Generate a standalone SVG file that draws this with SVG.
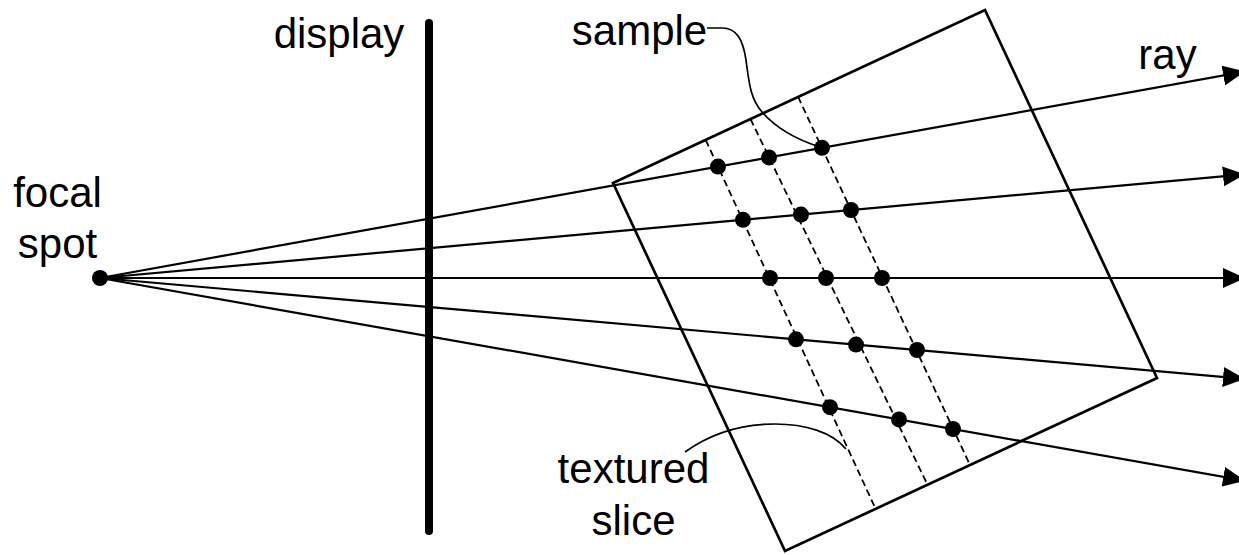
<svg xmlns="http://www.w3.org/2000/svg" width="1239" height="555" viewBox="0 0 1239 555">
<style>
.lbl{font-family:"Liberation Sans",Arial,sans-serif;font-size:42px;fill:#000;text-anchor:middle}
.ray{stroke:#000;stroke-width:2.2;fill:none}
.dash{stroke:#000;stroke-width:1.8;stroke-dasharray:7,4;fill:none}
.lead{stroke:#000;stroke-width:1.7;fill:none}
.dot{fill:#000}
</style>
<defs>
<marker id="arr" markerUnits="userSpaceOnUse" viewBox="0 0 22 20" markerWidth="22" markerHeight="20" refX="22" refY="10" orient="auto">
<path d="M0,0 L22,10 L0,20 z" fill="#000"/>
</marker>
</defs>
<rect width="1239" height="555" fill="#fff"/>
<g id="volume">
<polygon points="613,183 985,10 1157,378 785,551" fill="none" stroke="#000" stroke-width="2.7"/>
</g>
<g id="slices">
<line class="dash" x1="705.7" y1="139.9" x2="875.6" y2="508.9"/>
<line class="dash" x1="750.5" y1="119" x2="927.5" y2="484.7"/>
<line class="dash" x1="798.1" y1="96.9" x2="970" y2="465"/>
</g>
<g id="connectors">
<line class="ray" x1="100" y1="278" x2="1245" y2="71.6" marker-end="url(#arr)"/>
<line class="ray" x1="100" y1="278" x2="1245" y2="174.4" marker-end="url(#arr)"/>
<line class="ray" x1="100" y1="278" x2="1245" y2="278" marker-end="url(#arr)"/>
<line class="ray" x1="100" y1="278" x2="1245" y2="378.9" marker-end="url(#arr)"/>
<line class="ray" x1="100" y1="278" x2="1245" y2="480.7" marker-end="url(#arr)"/>
<path class="lead" d="M707,28 L722,28 C737,28 743,40 746,60 C749,82 750,98 762,112 C776,128 798,140 820,147"/>
<path class="lead" d="M685,452 C710,434 740,424 775,424 C805,424 832,432 846,449"/>
</g>
<g id="display">
<line x1="429" y1="23" x2="429" y2="531" stroke="#000" stroke-width="8" stroke-linecap="round"/>
<text class="lbl" x="339" y="48">display</text>
</g>
<g id="focal-spot">
<circle class="dot" cx="100" cy="278" r="8"/>
<text class="lbl" x="57.5" y="207">focal</text>
<text class="lbl" x="57.5" y="258">spot</text>
</g>
<g id="samples">
<circle class="dot" cx="718" cy="166.6" r="8"/>
<circle class="dot" cx="769" cy="157.4" r="8"/>
<circle class="dot" cx="822" cy="147.8" r="8"/>
<circle class="dot" cx="743" cy="219.8" r="8"/>
<circle class="dot" cx="801" cy="214.6" r="8"/>
<circle class="dot" cx="851" cy="210" r="8"/>
<circle class="dot" cx="770" cy="278" r="8"/>
<circle class="dot" cx="826" cy="278" r="8"/>
<circle class="dot" cx="882" cy="278" r="8"/>
<circle class="dot" cx="796" cy="339.3" r="8"/>
<circle class="dot" cx="856" cy="344.6" r="8"/>
<circle class="dot" cx="917" cy="350" r="8"/>
<circle class="dot" cx="830" cy="407.2" r="8"/>
<circle class="dot" cx="899" cy="419.4" r="8"/>
<circle class="dot" cx="953" cy="429" r="8"/>
</g>
<g id="sample-label">
<text class="lbl" x="639.5" y="45">sample</text>
</g>
<g id="ray-label">
<text class="lbl" x="1167.5" y="69">ray</text>
</g>
<g id="slice-label">
<text class="lbl" x="633.5" y="483">textured</text>
<text class="lbl" x="633.5" y="535">slice</text>
</g>
</svg>
